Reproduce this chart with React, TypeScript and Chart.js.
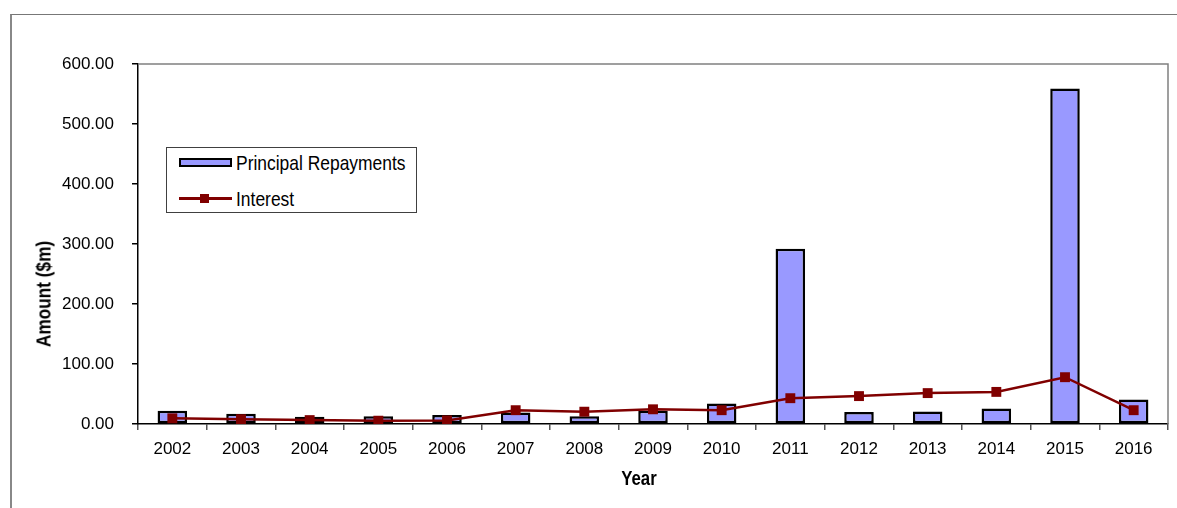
import React, { useEffect, useRef } from "react";
import { Chart, registerables } from "chart.js";

Chart.register(...registerables);

const years = ["2002", "2003", "2004", "2005", "2006", "2007", "2008", "2009", "2010", "2011", "2012", "2013", "2014", "2015", "2016"];
const principalRepayments = [22, 17, 12, 13, 15, 19, 13, 22, 34, 292, 20, 21, 26, 559, 41];
const interest = [9.5, 8, 6.5, 5.5, 6, 23, 20.5, 24.5, 23, 43, 46.5, 51.5, 53.5, 78, 23];
const yTickValues = [0, 100, 200, 300, 400, 500, 600];

const FONT = '"Liberation Sans", Arial, sans-serif';
const W = 1177;
const H = 508;
const NARROW = 0.83;

const framePlugin = {
  id: "plotFrame",
  afterDraw(chart: any) {
    const { ctx, chartArea } = chart;
    ctx.save();
    ctx.strokeStyle = "#808080";
    ctx.lineWidth = 1.5;
    ctx.beginPath();
    ctx.moveTo(chartArea.left, chartArea.top);
    ctx.lineTo(chartArea.right, chartArea.top);
    ctx.lineTo(chartArea.right, chartArea.bottom);
    ctx.stroke();
    ctx.restore();
  },
};

export default function App() {
  const canvasRef = useRef<HTMLCanvasElement | null>(null);

  useEffect(() => {
    if (!canvasRef.current) return;
    const chart = new Chart(canvasRef.current, {
      type: "bar",
      data: {
        labels: years,
        datasets: [
          {
            type: "line",
            label: "Interest",
            data: interest,
            borderColor: "#800000",
            backgroundColor: "#800000",
            borderWidth: 2.5,
            pointStyle: "rect",
            pointRadius: 7,
            pointBorderWidth: 0,
            pointBackgroundColor: "#800000",
            tension: 0,
            order: 0,
          } as any,
          {
            type: "bar",
            label: "Principal Repayments",
            data: principalRepayments,
            backgroundColor: "#9999FF",
            borderColor: "#000000",
            borderWidth: 2.5,
            borderSkipped: false,
            barPercentage: 0.43,
            categoryPercentage: 1,
            order: 1,
          } as any,
        ],
      },
      options: {
        responsive: false,
        animation: false,
        devicePixelRatio: 1,
        layout: { padding: { left: 0, right: 9, top: 64, bottom: 0 } },
        plugins: {
          legend: { display: false },
          tooltip: { enabled: false },
          title: { display: false },
        },
        scales: {
          x: {
            type: "category",
            offset: true,
            grid: {
              display: true,
              offset: true,
              drawOnChartArea: false,
              drawTicks: true,
              tickLength: 6,
              color: "#555555",
              lineWidth: 1.5,
            },
            border: { display: true, color: "#000000", width: 1.5 },
            ticks: {
              color: "#000000",
              font: { family: FONT, size: 17 },
              padding: 9,
              maxRotation: 0,
              autoSkip: false,
            },
            afterFit(scale: any) {
              scale.height = H - 424;
            },
          },
          y: {
            min: 0,
            max: 600,
            afterBuildTicks(scale: any) {
              scale.ticks = yTickValues.map((v) => ({ value: v }));
            },
            grid: {
              display: true,
              drawOnChartArea: false,
              drawTicks: true,
              tickLength: 6,
              color: "#000000",
              lineWidth: 1.5,
            },
            border: { display: true, color: "#000000", width: 1.5 },
            ticks: {
              color: "#000000",
              font: { family: FONT, size: 17 },
              padding: 18,
              callback: (v: any) => Number(v).toFixed(2),
            },
            afterFit(scale: any) {
              scale.width = 138;
            },
          },
        },
      },
      plugins: [framePlugin],
    });
    return () => chart.destroy();
  }, []);

  const textBase: React.CSSProperties = {
    position: "absolute",
    fontFamily: FONT,
    color: "#000",
    whiteSpace: "nowrap",
    lineHeight: 1,
  };

  return (
    <div style={{ position: "absolute", left: 0, top: 0, width: W, height: H, background: "#fff", overflow: "hidden" }}>
      <div
        style={{
          position: "absolute",
          left: 10,
          top: 14,
          width: W - 10,
          height: H - 14,
          borderTop: "1.5px solid #777",
          borderLeft: "2px solid #888",
          boxSizing: "border-box",
        }}
      />
      <canvas ref={canvasRef} width={W} height={H} style={{ position: "absolute", left: 0, top: 0, width: W, height: H }} />
      <div
        style={{
          ...textBase,
          fontWeight: "bold",
          fontSize: 21,
          left: 42.5,
          top: 294,
          transform: `translate(-50%, -50%) rotate(-90deg) scale(0.82, 1)`,
        }}
      >
        Amount ($m)
      </div>
      <div
        style={{
          ...textBase,
          fontWeight: "bold",
          fontSize: 21,
          left: 639,
          top: 477,
          transform: `translate(-50%, -50%) scale(0.8, 1)`,
        }}
      >
        Year
      </div>
      <div
        style={{
          position: "absolute",
          left: 166,
          top: 147,
          width: 251,
          height: 66,
          border: "1px solid #404040",
          background: "#fff",
          boxSizing: "border-box",
        }}
      >
        <div
          style={{
            position: "absolute",
            left: 12,
            top: 10,
            width: 53,
            height: 9,
            background: "#9999FF",
            border: "2.5px solid #000",
            boxSizing: "border-box",
          }}
        />
        <div
          style={{
            ...textBase,
            fontSize: 21,
            left: 69,
            top: 14,
            transformOrigin: "0 50%",
            transform: `translateY(-50%) scale(${NARROW}, 1)`,
          }}
        >
          Principal Repayments
        </div>
        <div style={{ position: "absolute", left: 12, top: 49, width: 53, height: 2.5, background: "#800000" }} />
        <div style={{ position: "absolute", left: 33, top: 45.5, width: 9, height: 9, background: "#800000" }} />
        <div
          style={{
            ...textBase,
            fontSize: 21,
            left: 69,
            top: 49.5,
            transformOrigin: "0 50%",
            transform: `translateY(-50%) scale(${NARROW}, 1)`,
          }}
        >
          Interest
        </div>
      </div>
    </div>
  );
}
